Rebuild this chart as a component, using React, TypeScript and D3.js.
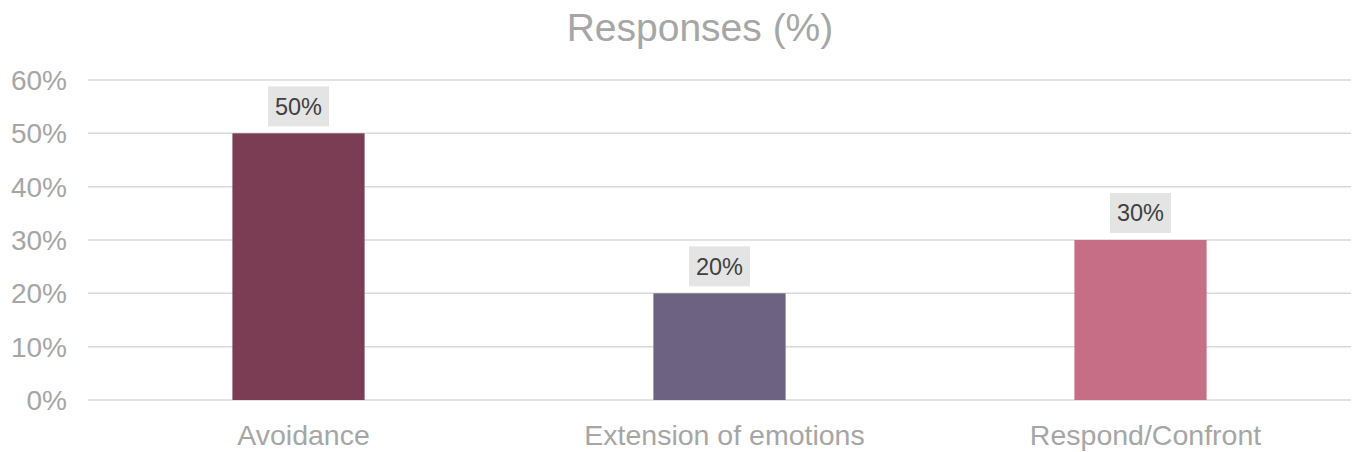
import React, { useEffect, useRef } from "react";
import * as d3 from "d3";

const categories = ["Avoidance", "Extension of emotions", "Respond/Confront"];
const values = [50, 20, 30];
const barColors = ["#7b3d54", "#6e6283", "#c56e85"];
const yTicks = [0, 10, 20, 30, 40, 50, 60];

export default function App() {
  const ref = useRef<SVGSVGElement>(null);

  useEffect(() => {
    const width = 1354;
    const height = 452;
    const margin = { top: 80, right: 3, bottom: 52, left: 88 };
    const innerW = width - margin.left - margin.right;
    const innerH = height - margin.top - margin.bottom;

    const svg = d3.select(ref.current);
    svg.selectAll("*").remove();
    svg.attr("width", width).attr("height", height);

    const font = "'Liberation Sans', Arial, sans-serif";

    svg
      .append("text")
      .attr("x", 700)
      .attr("y", 41)
      .attr("text-anchor", "middle")
      .attr("font-family", font)
      .attr("font-size", 39)
      .attr("fill", "#a6a6a6")
      .text("Responses (%)");

    const g = svg.append("g").attr("transform", `translate(${margin.left},${margin.top})`);

    const x = d3.scaleBand().domain(categories).range([0, innerW]).paddingInner(0).paddingOuter(0);
    const y = d3.scaleLinear().domain([0, 60]).range([innerH, 0]);
    const barW = x.bandwidth() * 0.314;

    // gridlines
    g.selectAll("line.grid")
      .data(yTicks)
      .enter()
      .append("line")
      .attr("class", "grid")
      .attr("x1", 0)
      .attr("x2", innerW)
      .attr("y1", (d) => y(d))
      .attr("y2", (d) => y(d))
      .attr("stroke", "#d9d9d9")
      .attr("stroke-width", 1.5);

    // y tick labels
    g.selectAll("text.ytick")
      .data(yTicks)
      .enter()
      .append("text")
      .attr("class", "ytick")
      .attr("x", -21)
      .attr("y", (d) => y(d))
      .attr("dy", "0.36em")
      .attr("text-anchor", "end")
      .attr("font-family", font)
      .attr("font-size", 28)
      .attr("fill", "#a6a6a6")
      .text((d) => `${d}%`);

    // bars
    g.selectAll("rect.bar")
      .data(values)
      .enter()
      .append("rect")
      .attr("class", "bar")
      .attr("x", (_, i) => x(categories[i])! + x.bandwidth() / 2 - barW / 2)
      .attr("y", (d) => y(d))
      .attr("width", barW)
      .attr("height", (d) => innerH - y(d))
      .attr("fill", (_, i) => barColors[i]);

    // data labels
    const lbl = g
      .selectAll("g.lbl")
      .data(values)
      .enter()
      .append("g")
      .attr("class", "lbl")
      .attr("transform", (d, i) => `translate(${x(categories[i])! + x.bandwidth() / 2},${y(d) - 27})`);

    lbl
      .append("rect")
      .attr("x", -30.5)
      .attr("y", -20)
      .attr("width", 61)
      .attr("height", 40)
      .attr("fill", "#e4e4e4");

    lbl
      .append("text")
      .attr("text-anchor", "middle")
      .attr("dy", "0.36em")
      .attr("font-family", font)
      .attr("font-size", 23.5)
      .attr("fill", "#404040")
      .text((d) => `${d}%`);

    // category labels
    g.selectAll("text.cat")
      .data(categories)
      .enter()
      .append("text")
      .attr("class", "cat")
      .attr("x", (d) => x(d)! + x.bandwidth() / 2 + 5)
      .attr("y", innerH + 45)
      .attr("text-anchor", "middle")
      .attr("font-family", font)
      .attr("font-size", 28.5)
      .attr("fill", "#a6a6a6")
      .text((d) => d);
  }, []);

  return (
    <div style={{ position: "absolute", left: 0, top: 0 }}>
      <svg ref={ref} style={{ display: "block" }} />
    </div>
  );
}
